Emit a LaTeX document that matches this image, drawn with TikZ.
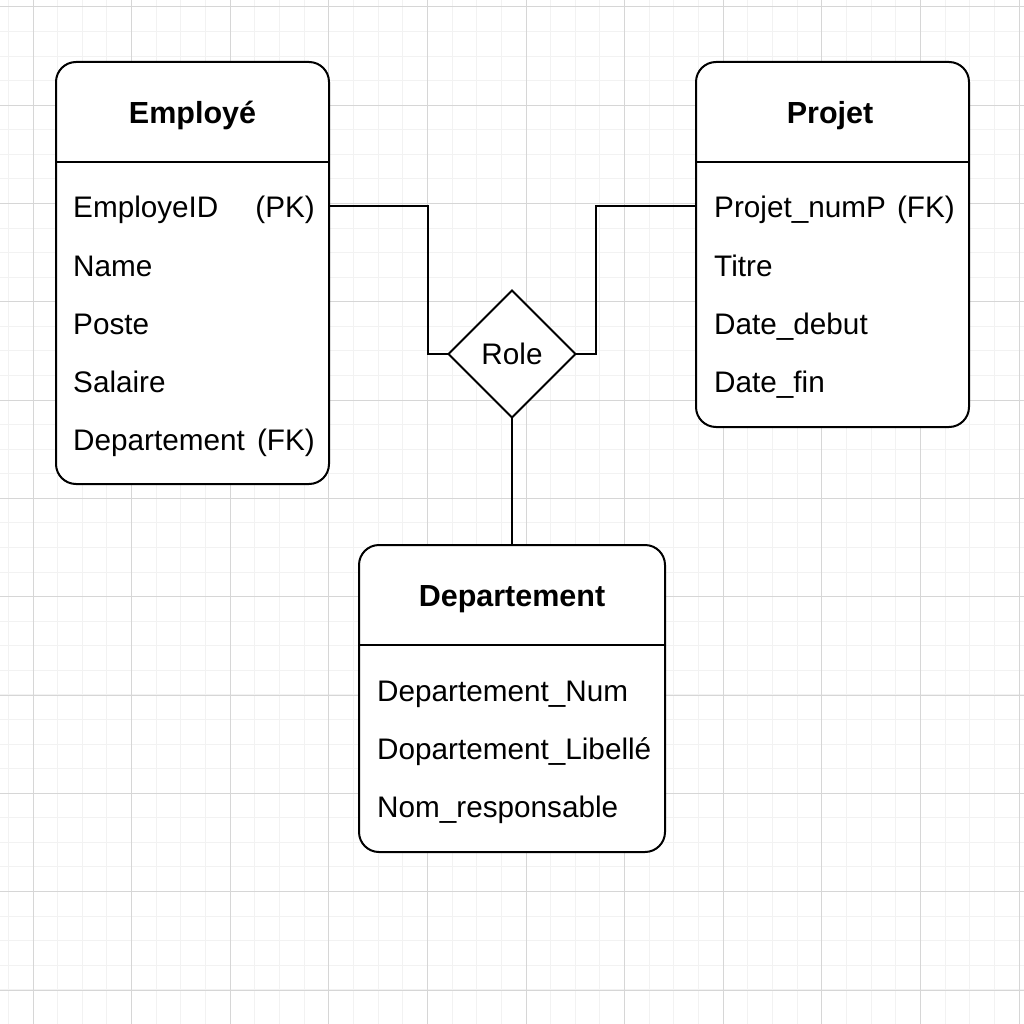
\documentclass[tikz,border=0pt]{standalone}
\usepackage{fontspec}
\setmainfont{Liberation Sans}
\usetikzlibrary{shapes.geometric, positioning, calc}

\tikzset{
  entity/.style={draw, line width=2pt, rounded corners=20pt, anchor=north west, inner sep=0pt, outer sep=0pt},
  ttl/.style={font=\fontsize{30.5}{36}\selectfont\bfseries, anchor=base, inner sep=0pt},
  attr/.style={font=\fontsize{29.7}{35}\selectfont, anchor=base west, inner sep=0pt},
  keytag/.style={font=\fontsize{29.7}{35}\selectfont, anchor=base east, inner sep=0pt},
  relation/.style={diamond, draw, line width=2pt, minimum width=127pt, minimum height=127pt,
    inner sep=0pt, outer sep=0pt, font=\fontsize{29.7}{35}\selectfont},
  link/.style={line width=2pt},
  minorgrid/.style={draw=black!5, line width=1pt},
  majorgrid/.style={draw=black!16, line width=1pt}
}

\begin{document}
\begin{tikzpicture}[x=1pt, y=-1pt]
  \useasboundingbox (0,0) rectangle (1024,1024);
  \fill[white] (0,0) rectangle (1024,1024);
  % background grid
  \foreach \i in {-2,...,40} {
    \pgfmathsetmacro\gx{33+24.65*\i}
    \pgfmathsetmacro\gy{7+24.57*\i}
    \draw[minorgrid] (\gx,0) -- (\gx,1024);
    \draw[minorgrid] (0,\gy) -- (1024,\gy);
  }
  \foreach \i in {0,...,10} {
    \pgfmathsetmacro\gx{33+98.6*\i}
    \pgfmathsetmacro\gy{7+98.3*\i}
    \draw[majorgrid] (\gx,0) -- (\gx,1024);
    \draw[majorgrid] (0,\gy) -- (1024,\gy);
  }

  % entities
  \node[entity, fill=white, minimum width=273pt, minimum height=422pt] (emp) at (56,62) {};
  \node[entity, fill=white, minimum width=273pt, minimum height=365pt] (proj) at (696,62) {};
  \node[entity, fill=white, minimum width=306pt, minimum height=307pt] (dept) at (359,545) {};
  \draw[link] (emp.west |- 0,162) -- (emp.east |- 0,162);
  \draw[link] (proj.west |- 0,162) -- (proj.east |- 0,162);
  \draw[link] (dept.west |- 0,645) -- (dept.east |- 0,645);

  % Employé
  \node[ttl] (empttl) at (192.5,124) {Employé};
  \node[attr] (empid) at (73,218) {EmployeID};
  \node[keytag] (empidk) at (315,218) {(PK)};
  \node[attr] (empname) at (73,276) {Name};
  \node[attr] (empposte) at (73,334) {Poste};
  \node[attr] (empsal) at (73,392) {Salaire};
  \node[attr] (empdept) at (73,450) {Departement};
  \node[keytag] (empdeptk) at (315,450) {(FK)};

  % Projet
  \node[ttl] (projttl) at (830,124) {Projet};
  \node[attr] (projnum) at (714,218) {Projet\_numP};
  \node[keytag] (projnumk) at (955,218) {(FK)};
  \node[attr] (projtitre) at (714,276) {Titre};
  \node[attr] (projdebut) at (714,334) {Date\_debut};
  \node[attr] (projfin) at (714,392) {Date\_fin};

  % Departement
  \node[ttl] (deptttl) at (512,606) {Departement};
  \node[attr] (deptnum) at (377,701) {Departement\_Num};
  \node[attr] (deptlib) at (377,759) {Dopartement\_Libellé};
  \node[attr] (deptresp) at (377,817) {Nom\_responsable};

  % relation
  \node[relation, fill=white] (role) at (512,354) {Role};

  % connectors
  \draw[link] (emp.east |- 0,206) -- ++(99,0) |- (role.west);
  \draw[link] (role.east) -- ++(20,0) |- (proj.west |- 0,206);
  \draw[link] (role.south) -- (role.south |- dept.north);
\end{tikzpicture}
\end{document}
